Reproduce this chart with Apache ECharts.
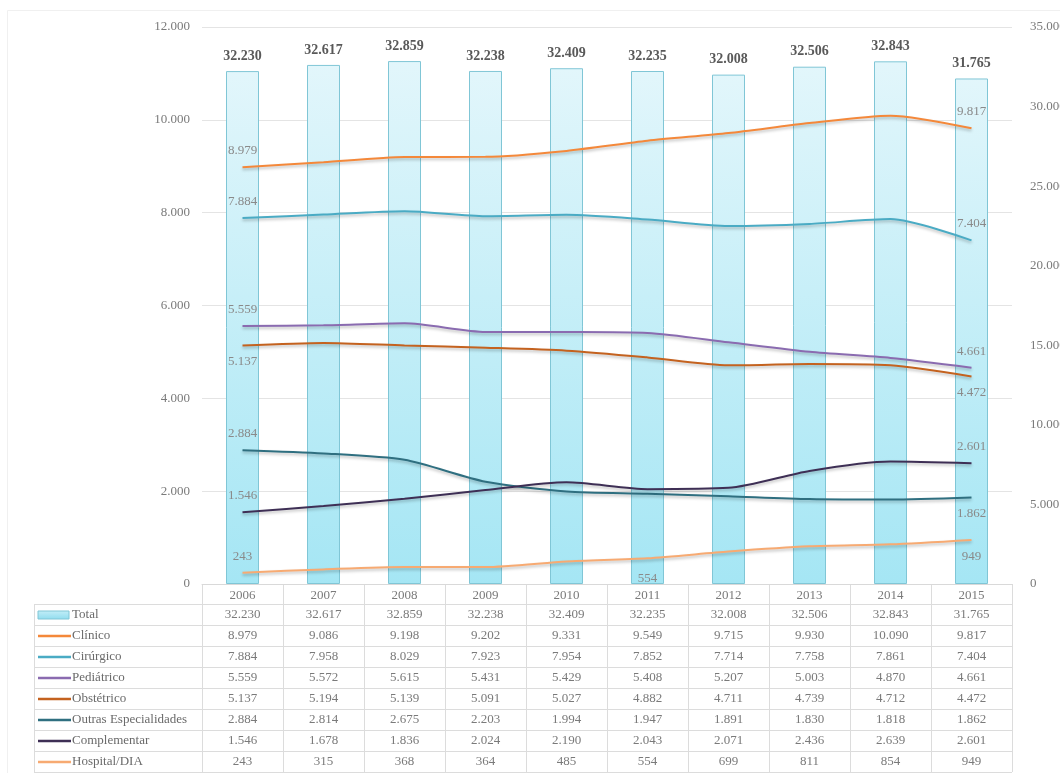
<!DOCTYPE html>
<html>
<head>
<meta charset="utf-8">
<script src="https://cdn.jsdelivr.net/npm/echarts@6/dist/echarts.min.js"></script>
<style>
  html, body { margin: 0; padding: 0; background: #fff; }
  #chart { width: 1060px; height: 773px; }
</style>
</head>
<body>
<div id="chart"></div>
<script>
const years = ['2006', '2007', '2008', '2009', '2010', '2011', '2012', '2013', '2014', '2015']
const total = [32230, 32617, 32859, 32238, 32409, 32235, 32008, 32506, 32843, 31765]
const clinico = [8979, 9086, 9198, 9202, 9331, 9549, 9715, 9930, 10090, 9817]
const cirurgico = [7884, 7958, 8029, 7923, 7954, 7852, 7714, 7758, 7861, 7404]
const pediatrico = [5559, 5572, 5615, 5431, 5429, 5408, 5207, 5003, 4870, 4661]
const obstetrico = [5137, 5194, 5139, 5091, 5027, 4882, 4711, 4739, 4712, 4472]
const outras = [2884, 2814, 2675, 2203, 1994, 1947, 1891, 1830, 1818, 1862]
const complementar = [1546, 1678, 1836, 2024, 2190, 2043, 2071, 2436, 2639, 2601]
const hospitalDia = [243, 315, 368, 364, 485, 554, 699, 811, 854, 949]
const leftTicks = [0, 2000, 4000, 6000, 8000, 10000, 12000]
const rightTicks = [0, 5000, 10000, 15000, 20000, 25000, 30000, 35000]

const FONT = '"Liberation Serif", "Times New Roman", serif'
const fmt = (v) => String(v).replace(/\B(?=(\d{3})+(?!\d))/g, '.')

// séries de linha: nome, dados, cor, rótulos visíveis (índice -> posição)
const lineSeries = [
  { name: 'Clínico', data: clinico, color: '#f4883a', labels: { 0: 'top', 9: 'top' } },
  { name: 'Cirúrgico', data: cirurgico, color: '#4aabc4', labels: { 0: 'top', 9: 'top' } },
  { name: 'Pediátrico', data: pediatrico, color: '#8a6bb0', labels: { 0: 'top', 9: 'top' } },
  { name: 'Obstétrico', data: obstetrico, color: '#c4621f', labels: { 0: 'bottom', 9: 'bottom' } },
  { name: 'Outras Especialidades', data: outras, color: '#2f6f80', labels: { 0: 'top', 9: 'bottom' } },
  { name: 'Complementar', data: complementar, color: '#3e2f55', labels: { 0: 'top', 9: 'top' } },
  { name: 'Hospital/DIA', data: hospitalDia, color: '#f7aa72', labels: { 0: 'top', 5: 'bottom', 9: 'bottom' } },
]

const chart = echarts.init(document.getElementById('chart'))

const buildLine = (s) => ({
  name: s.name,
  type: 'line',
  yAxisIndex: 0,
  smooth: 0.25,
  symbol: 'circle',
  symbolSize: 0,
  showSymbol: true,
  z: 3,
  lineStyle: {
    width: 2,
    color: s.color,
    shadowColor: 'rgba(0, 0, 0, 0.25)',
    shadowBlur: 3,
    shadowOffsetY: 2,
  },
  itemStyle: { color: s.color },
  label: { show: false },
  data: s.data.map((v, i) => {
    const pos = s.labels[i]
    if (!pos) return v
    return {
      value: v,
      label: {
        show: true,
        position: pos,
        distance: s.name === 'Hospital/DIA' && i === 5 ? 14 : 10,
        formatter: (p) => fmt(p.value),
        color: '#8a8a8a',
        fontFamily: FONT,
        fontSize: 13,
      },
    }
  }),
})

const options = {
  animation: false,
  backgroundColor: '#fff',
  grid: { left: 202, right: 48, top: 27, bottom: 189, outerBoundsMode: 'none', containLabel: false },
  xAxis: {
    type: 'category',
    data: years,
    axisLine: { lineStyle: { color: '#d9d9d9' } },
    axisTick: { show: false },
    axisLabel: { margin: 5, color: '#7a7a7a', fontFamily: FONT, fontSize: 13 },
  },
  yAxis: [
    {
      type: 'value',
      min: leftTicks[0],
      max: leftTicks[leftTicks.length - 1],
      interval: 2000,
      axisLine: { show: false },
      axisTick: { show: false },
      axisLabel: { margin: 12, color: '#7a7a7a', fontFamily: FONT, fontSize: 13, formatter: fmt },
      splitLine: { lineStyle: { color: '#e4e4e4' } },
    },
    {
      type: 'value',
      min: rightTicks[0],
      max: rightTicks[rightTicks.length - 1],
      interval: 5000,
      axisLine: { show: false },
      axisTick: { show: false },
      axisLabel: { margin: 18, color: '#7a7a7a', fontFamily: FONT, fontSize: 13, formatter: fmt },
      splitLine: { show: false },
    },
  ],
  series: [
    {
      name: 'Total',
      type: 'bar',
      yAxisIndex: 1,
      barWidth: 33,
      z: 2,
      itemStyle: {
        color: new echarts.graphic.LinearGradient(0, 0, 0, 1, [
          { offset: 0, color: '#e2f6fb' },
          { offset: 1, color: '#a5e6f4' },
        ]),
        borderColor: '#80c6d6',
        borderWidth: 1,
      },
      label: {
        show: true,
        position: 'top',
        distance: 8,
        color: '#595959',
        fontFamily: FONT,
        fontSize: 14,
        fontWeight: 'bold',
        formatter: (p) => fmt(p.value),
      },
      data: total,
    },
    ...lineSeries.map(buildLine),
  ],
}

chart.setOption(options)

// tabela de dados abaixo do gráfico
const drawTable = () => {
  const rowH = 21
  const top = 604
  const left = 34
  const centers = years.map((y) => chart.convertToPixel({ xAxisIndex: 0 }, y))
  const half = (centers[1] - centers[0]) / 2
  const colLeft = centers[0] - half
  const right = centers[centers.length - 1] + half
  const rows = [{ name: 'Total', data: total, key: 'bar' }].concat(
    lineSeries.map((s) => ({ name: s.name, data: s.data, key: 'line', color: s.color }))
  )
  const bottom = top + rowH * rows.length
  const els = []
  const line = (x1, y1, x2, y2) =>
    els.push({ type: 'line', silent: true, shape: { x1, y1, x2, y2 }, style: { stroke: '#dcdcdc', lineWidth: 1 } })

  for (let k = 0; k <= rows.length; k++) line(left, top + k * rowH + 0.5, right, top + k * rowH + 0.5)
  line(left + 0.5, top, left + 0.5, bottom)
  for (let i = 0; i <= years.length; i++) {
    const x = Math.round(colLeft + i * 2 * half) + 0.5
    line(x, 584, x, bottom)
  }

  rows.forEach((r, k) => {
    const cy = top + k * rowH + rowH / 2 + 0.5
    if (r.key === 'bar') {
      els.push({
        type: 'rect', silent: true,
        shape: { x: 38, y: cy - 4, width: 31, height: 8 },
        style: {
          fill: new echarts.graphic.LinearGradient(0, 0, 0, 1, [
            { offset: 0, color: '#c4eef8' },
            { offset: 1, color: '#8fdcee' },
          ]),
          stroke: '#80c6d6', lineWidth: 1,
        },
      })
    } else {
      els.push({
        type: 'line', silent: true,
        shape: { x1: 38, y1: cy, x2: 71, y2: cy },
        style: { stroke: r.color, lineWidth: 2.5 },
      })
    }
    els.push({
      type: 'text', silent: true,
      style: { text: r.name, x: 72, y: cy, textAlign: 'left', textVerticalAlign: 'middle', fill: '#6a6a6a', font: '13px ' + FONT },
    })
    r.data.forEach((v, i) => {
      els.push({
        type: 'text', silent: true,
        style: { text: fmt(v), x: centers[i], y: cy, textAlign: 'center', textVerticalAlign: 'middle', fill: '#7a7a7a', font: '13px ' + FONT },
      })
    })
  })

  // moldura suave em volta da área do gráfico
  els.push({
    type: 'rect', silent: true, z: -10,
    shape: { x: 7.5, y: 10.5, width: 1060, height: 800 },
    style: { fill: 'none', stroke: '#f0f0f0', lineWidth: 1 },
  })

  chart.setOption({ graphic: { elements: els } })
}

drawTable()
</script>
</body>
</html>
